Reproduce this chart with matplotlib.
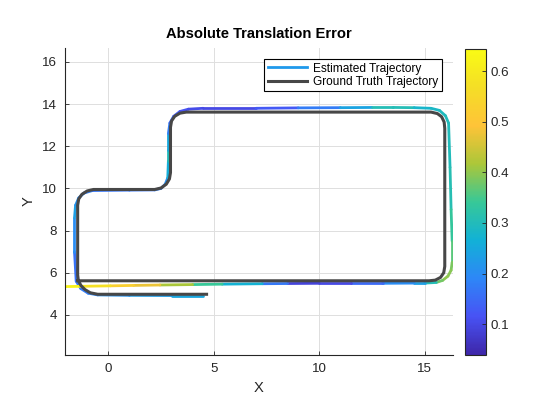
import numpy as np
import matplotlib
matplotlib.use("Agg")
import matplotlib.pyplot as plt
from matplotlib.collections import LineCollection
from matplotlib.colors import LinearSegmentedColormap, Normalize
from matplotlib.lines import Line2D

plt.rcParams['font.family'] = ['Liberation Sans', 'DejaVu Sans']

# --- data ---
gt_x = [4.66, -0.5, -0.85, -1.1, -1.3, -1.42, -1.45,
        -1.45, -1.4, -1.25, -1.0, -0.7,
        2.2, 2.5, 2.75, 2.9, 2.95,
        2.95, 3.0, 3.15, 3.4, 3.7,
        15.3, 15.6, 15.8, 15.92, 15.95,
        15.95, 15.9, 15.75, 15.5, 15.2, -1.45]
gt_y = [4.98, 4.98, 5.05, 5.2, 5.4, 5.65, 5.9,
        9.2, 9.5, 9.72, 9.88, 9.95,
        9.95, 10.02, 10.2, 10.45, 10.75,
        12.9, 13.2, 13.42, 13.57, 13.62,
        13.62, 13.55, 13.4, 13.15, 12.85,
        6.3, 6.0, 5.78, 5.65, 5.62, 5.62]

est_x = [4.50, 3.0, 1.0, -0.5, -0.95, -1.3, -1.52, -1.6, -1.6, -1.55, -1.4, -1.15, -0.75,
         1.0, 2.2, 2.5, 2.7, 2.82, 2.85, 2.85, 2.85, 2.92, 3.1, 3.4, 3.8, 4.5, 7.0, 9.0,
         11.0, 12.5, 13.5, 14.5, 15.3, 15.7, 15.98, 16.13, 16.2, 16.25, 16.3, 16.3,
         16.25, 16.1, 15.85, 15.55, 15.0, 14.5, 13.0, 11.5, 10.0, 8.5, 7.3, 5.4, 4.0,
         2.45, 1.2, 0.1, -1.2, -2.3]
est_y = [4.92, 4.92, 4.93, 4.95, 5.03, 5.25, 5.6, 7.0, 8.6, 9.2, 9.55, 9.78, 9.9,
         9.92, 9.93, 10.0, 10.2, 10.5, 11.3, 11.8, 12.6, 13.1, 13.42, 13.65, 13.76, 13.8,
         13.8, 13.82, 13.83, 13.84, 13.84, 13.83, 13.8, 13.7, 13.45, 13.1, 11.0, 9.0,
         7.5, 6.5, 6.12, 5.84, 5.64, 5.54, 5.51, 5.51, 5.5, 5.5, 5.5, 5.49, 5.48,
         5.46, 5.44, 5.42, 5.4, 5.38, 5.36, 5.34]
est_err = [0.25, 0.24, 0.22, 0.2, 0.18, 0.17, 0.17, 0.15, 0.25, 0.22, 0.2, 0.19, 0.18,
           0.15, 0.18, 0.18, 0.19, 0.22, 0.3, 0.3, 0.2, 0.16, 0.14, 0.12, 0.11, 0.1,
           0.1, 0.15, 0.2, 0.28, 0.33, 0.28, 0.28, 0.29, 0.3, 0.3, 0.3, 0.32, 0.35, 0.38,
           0.39, 0.4, 0.4, 0.36, 0.25, 0.22, 0.18, 0.12, 0.08, 0.1, 0.24, 0.3, 0.38,
           0.45, 0.5, 0.55, 0.6, 0.644]

err_min, err_max = 0.039, 0.644
cbar_ticks = [0.1, 0.2, 0.3, 0.4, 0.5, 0.6]

# parula-like colormap
parula = LinearSegmentedColormap.from_list("parula", [
    (0.000, (0.2422, 0.1504, 0.6603)),
    (0.125, (0.2810, 0.3228, 0.9579)),
    (0.250, (0.1786, 0.5289, 0.9682)),
    (0.375, (0.0689, 0.6948, 0.8394)),
    (0.500, (0.2161, 0.7843, 0.5923)),
    (0.625, (0.6720, 0.7793, 0.2227)),
    (0.750, (0.9970, 0.7659, 0.2199)),
    (0.875, (0.9600, 0.8700, 0.1500)),
    (1.000, (0.9769, 0.9839, 0.0805)),
])

fig = plt.figure(figsize=(5.6, 4.2), dpi=100)
ax = fig.add_axes([65 / 560, 65 / 420, 388 / 560, 307 / 420])

pts = np.column_stack([est_x, est_y])
segs = np.stack([pts[:-1], pts[1:]], axis=1)
err = np.array(est_err)
lc = LineCollection(segs, cmap=parula, norm=Normalize(err_min, err_max),
                    linewidths=2.0, capstyle='round', joinstyle='round')
lc.set_array((err[:-1] + err[1:]) / 2)
ax.add_collection(lc)

ax.plot(gt_x, gt_y, color='#474747', lw=2.2, solid_joinstyle='round')

ax.set_xlim(-2.05, 16.34)
ax.set_ylim(2.1, 16.66)
ax.set_xticks([0, 5, 10, 15])
ax.set_yticks([4, 6, 8, 10, 12, 14, 16])
ax.grid(True, color='#dedede', lw=0.7)
ax.set_axisbelow(True)
for s in ['top', 'right']:
    ax.spines[s].set_visible(False)
for s in ['left', 'bottom']:
    ax.spines[s].set_color('#262626')
    ax.spines[s].set_linewidth(0.8)
ax.tick_params(direction='in', length=3, width=0.6, colors='#262626',
               labelsize=9.6, labelcolor='#262626', pad=6)

ax.set_xlabel("X", fontsize=10.6, color='#262626')
ax.set_ylabel("Y", fontsize=10.6, color='#262626')
ax.set_title("Absolute Translation Error", fontsize=10.6, fontweight='bold', pad=7)

handles = [Line2D([], [], color=(0.12, 0.6, 0.92), lw=2.0),
           Line2D([], [], color='#474747', lw=2.2)]
leg = ax.legend(handles, ["Estimated Trajectory", "Ground Truth Trajectory"],
                loc='upper right', bbox_to_anchor=(0.972, 0.964), borderaxespad=0,
                fontsize=8.6, fancybox=False, framealpha=1, edgecolor='black',
                handlelength=3.3, handletextpad=0.5, borderpad=0.3, labelspacing=0.1)
leg.get_frame().set_linewidth(0.8)

cax = fig.add_axes([465 / 560, 65 / 420, 21 / 560, 306 / 420])
cb = fig.colorbar(lc, cax=cax, ticks=cbar_ticks)
cb.ax.tick_params(direction='in', length=3, width=0.6, colors='#262626',
                  labelsize=9.6, labelcolor='#262626')
cb.outline.set_linewidth(0.8)
cb.outline.set_edgecolor('#262626')

fig.savefig("out.png", dpi=100)
